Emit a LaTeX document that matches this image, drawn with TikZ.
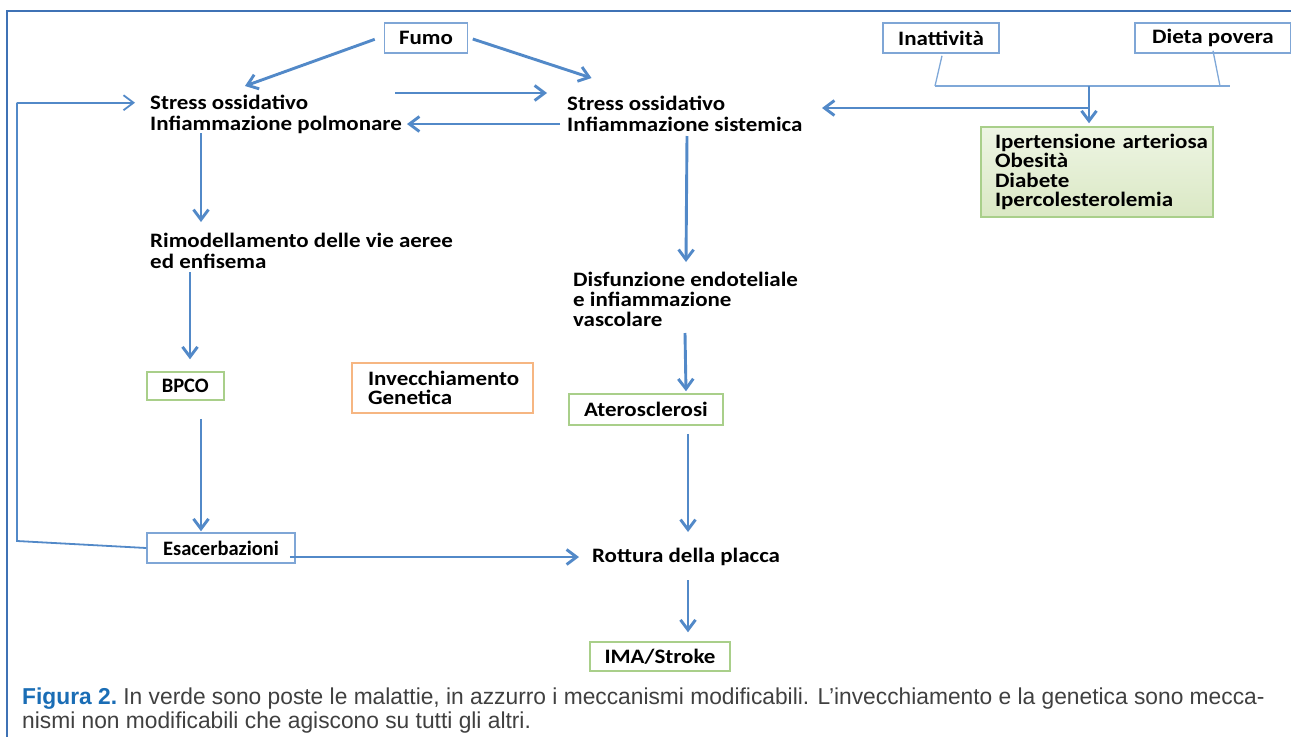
\documentclass[tikz,border=0pt]{standalone}
\usepackage{fontspec}
\setmainfont{Carlito}
\newfontfamily\wfont[FakeStretch=1.12]{Carlito}
\newfontfamily\capfont[FakeStretch=0.99]{Liberation Sans}
\usetikzlibrary{arrows.meta,calc}
\definecolor{arrblue}{HTML}{5289C8}
\definecolor{frameblue}{HTML}{3F72B5}
\definecolor{boxblue}{HTML}{7FA6D6}
\definecolor{thinblue}{HTML}{7FA8D8}
\definecolor{grborder}{HTML}{A9CF8A}
\definecolor{grtop}{HTML}{EEF5E4}
\definecolor{grbot}{HTML}{DAE8C4}
\definecolor{orborder}{HTML}{F6B682}
\definecolor{capblue}{HTML}{1A6DB5}
\definecolor{capgray}{HTML}{404040}
\tikzset{
  lbl/.style={font=\wfont\fontsize{20.5}{21}\selectfont\bfseries, align=left, inner sep=0pt, anchor=west},
  bbox/.style={draw=boxblue, line width=1.5pt, fill=white, font=\wfont\fontsize{20.5}{23}\selectfont\bfseries, inner sep=0pt},
  gbox/.style={draw=grborder, line width=1.5pt, fill=white, font=\wfont\fontsize{20.5}{23}\selectfont\bfseries, inner sep=0pt},
  arr/.style={draw=arrblue, line width=2.9pt, -{Straight Barb[length=10pt,width=15pt]}},
  thin/.style={draw=thinblue, line width=1.3pt},
}
\begin{document}
\begin{tikzpicture}[x=1pt,y=-1pt]
\useasboundingbox (0,0) rectangle (1291,737);
% frame
\draw[frameblue, line width=2pt] (1291,11) -- (7,11) -- (7,737);

% nodes
\node[bbox, minimum width=83pt, minimum height=30pt] (fumo) at (426,38) {Fumo};
\node[bbox, minimum width=116pt, minimum height=30pt] (inatt) at (941,38) {Inattività};
\node[bbox, minimum width=156pt, minimum height=30pt] (dieta) at (1213,38) {Dieta povera};

\node[lbl] (pol) at (150,114) {Stress ossidativo\\Infiammazione polmonare};
\node[lbl] (sis) at (567,114) {Stress ossidativo\\Infiammazione sistemica};

\node[draw=grborder, line width=1.5pt, top color=grtop, bottom color=grbot,
      minimum width=232pt, minimum height=90pt, text width=204pt, align=left, inner sep=0pt,
      font=\wfont\fontsize{20.5}{19.2}\selectfont\bfseries] (gr) at (1097,172)
      {\mbox{Ipertensione arteriosa}\\Obesità\\Diabete\\\mbox{Ipercolesterolemia}};

\node[lbl, font=\wfont\fontsize{20.5}{20.5}\selectfont\bfseries] (rim) at (150,251) {Rimodellamento delle vie aeree\\ed enfisema};
\node[lbl, font=\wfont\fontsize{20.5}{20}\selectfont\bfseries] (dis) at (573,299) {Disfunzione endoteliale\\e infiammazione\\vascolare};

\node[gbox, font=\fontsize{20.5}{23}\selectfont\bfseries, minimum width=77pt, minimum height=28pt] (bpco) at (185.3,386) {BPCO};
\node[draw=orborder, line width=1.5pt, minimum width=181pt, minimum height=50pt, text width=149pt,
      align=left, inner sep=0pt, font=\wfont\fontsize{20.5}{19.5}\selectfont\bfseries] (inv) at (442.5,388)
      {\mbox{Invecchiamento}\\Genetica};
\node[gbox, minimum width=154pt, minimum height=31pt] (ater) at (646,409.5) {Aterosclerosi};

\node[bbox, font=\fontsize{20.5}{23}\selectfont\bfseries, minimum width=148pt, minimum height=30pt] (esac) at (221,548) {Esacerbazioni};
\node[lbl] (rot) at (592,557) {Rottura della placca};
\node[gbox, minimum width=140pt, minimum height=29pt] (ima) at (660,656.5) {IMA/Stroke};

% junction coordinates
\coordinate (jl) at (935,86);
\coordinate (jr) at (1230,86);
\coordinate (jm) at (1089,86);
\coordinate (jh) at (1089,108);
\coordinate (lp1) at (17,541);
\coordinate (lp2) at (17,102.7);

% connectors
\draw[arr] ($(fumo.west)+(-9,1.3)$) -- ($(pol.west)+(95,-28)$);
\draw[arr] ($(fumo.east)+(4.5,1)$) -- ($(sis.west)+(24.5,-36)$);
\draw[arr] ($(pol.west)+(245,-21)$) -- ($(sis.west)+(-20,-21)$);
\draw[arr] ($(sis.west)+(-7,10)$) -- ($(pol.west)+(257,10)$);
\draw[arr] ($(pol.west)+(51,19)$) -- ($(rim.west)+(51,-29)$);
\draw[arr] ($(rim.west)+(40,21)$) -- ($(bpco.north)+(4.7,-12)$);
\draw[arr] ($(bpco.south)+(15.7,18)$) -- ($(esac.north)+(-20,-1)$);
\draw[arr] ($(esac.east)+(-6,9)$) -- ($(rot.west)+(-13,0)$);
\draw[draw=arrblue, line width=1.8pt] (esac.west) -- (lp1) -- (lp2);
\draw[draw=arrblue, line width=1.8pt, -{Straight Barb[length=10pt,width=15pt]}] (lp2) -- ($(pol.west)+(-15,-11.3)$);
\draw[arr] ($(sis.west)+(120,22)$) -- ($(dis.west)+(113,-37)$);
\draw[arr] ($(dis.west)+(112,34)$) -- ($(ater.north)+(40,-2)$);
\draw[arr] ($(ater.south)+(42,8)$) -- ($(rot.west)+(96,-25)$);
\draw[arr] ($(rot.west)+(96,23)$) -- ($(ima.north)+(28,-9)$);

\draw[thin] ($(inatt.south)+(1,2)$) -- (jl);
\draw[thin] ($(dieta.south)+(0,-3)$) -- ($(jr)+(-10,0)$);
\draw[thin] (jl) -- (jr);
\draw[arr] (jm) -- ($(gr.north -| jm)+(0,-3)$);
\draw[arr] (jh) -- ($(sis.west)+(255,-6)$);

% caption
\node[anchor=base west, inner sep=0pt, font=\capfont\fontsize{23}{23}\selectfont] (cap1) at (22,704)
  {\textcolor{capblue}{\bfseries Figura 2.}\ \textcolor{capgray}{In verde sono poste le malattie, in azzurro i meccanismi modificabili. L’invecchiamento e la genetica sono mecca-}};
\node[anchor=base west, inner sep=0pt, font=\capfont\fontsize{23}{23}\selectfont, text=capgray] (cap2) at (22,728)
  {nismi non modificabili che agiscono su tutti gli altri.};
\end{tikzpicture}
\end{document}
